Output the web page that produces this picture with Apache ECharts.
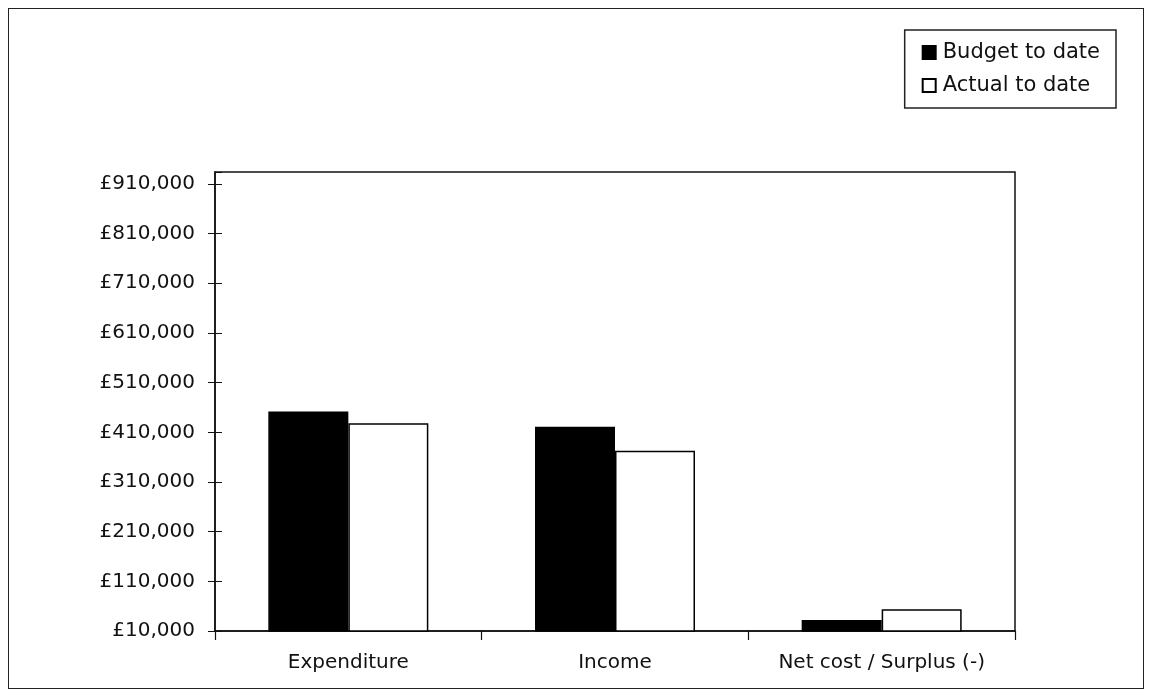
<!DOCTYPE html>
<html><head><meta charset="utf-8">
<script src="https://cdn.jsdelivr.net/npm/echarts@6/dist/echarts.min.js"></script>
<style>
html,body{margin:0;padding:0;background:#fff;}
#c{width:1151px;height:695px;}
#frame{position:absolute;left:8px;top:8px;width:1134px;height:679px;border:1.5px solid #222;pointer-events:none;}
</style></head>
<body>
<div id="c"></div>
<div id="frame"></div>
<script>
const categories = ['Expenditure', 'Income', 'Net cost / Surplus (-)'];
const budgetToDate = [452000, 421000, 32000];
const actualToDate = [428000, 373000, 54000];
const seriesNames = ['Budget to date', 'Actual to date'];
const yMin = 10000, yMax = 934000, yStep = 100000;

function fmt(v){
  if ((v - yMin) % yStep !== 0 || v > 910000) return '';
  return '£' + v.toLocaleString('en-GB');
}
const chart = echarts.init(document.getElementById('c'));
const font = 'DejaVu Sans, Arial, sans-serif';
chart.setOption({
  animation:false,
  backgroundColor:'#fff',
  textStyle:{fontFamily:font},
  legend:{
    orient:'vertical', right:35, top:30,
    data:seriesNames,
    itemWidth:13, itemHeight:13, itemGap:12,
    borderColor:'#222', borderWidth:1.5, padding:[12,16,12,17],
    textStyle:{fontSize:21, color:'#111', fontFamily:font, padding:[0,0,0,2]},
    icon:'rect'
  },
  grid:{left:215, right:136, top:172, bottom:64, show:true, borderColor:'#111', borderWidth:1.5, backgroundColor:'transparent'},
  xAxis:{
    type:'category', data:categories,
    axisLine:{lineStyle:{color:'#111', width:1.5}},
    axisTick:{show:true, interval:0, length:9, lineStyle:{color:'#111', width:1.2}},
    axisLabel:{fontSize:20, color:'#111', margin:22, fontFamily:font, interval:0, hideOverlap:false},
    splitLine:{show:false}
  },
  yAxis:[{
    type:'value', min:yMin, max:yMax, interval:yStep,
    axisLine:{show:true, lineStyle:{color:'#111', width:1.5}},
    axisTick:{show:true, length:7, lineStyle:{color:'#111', width:1}},
    axisLabel:{fontSize:20, color:'#111', margin:20, formatter:fmt, fontFamily:font, showMaxLabel:false},
    splitLine:{show:false}
  },{
    type:'value', min:yMin, max:yMax, interval:yStep, position:'left',
    axisLine:{show:false},
    axisTick:{show:true, inside:true, length:7, lineStyle:{color:'#111', width:1}},
    axisLabel:{show:false},
    splitLine:{show:false}
  }],
  series:[{
    name:seriesNames[0], type:'bar', data:budgetToDate,
    barGap:'0%', barCategoryGap:'40%',
    itemStyle:{color:'#000', borderColor:'#000', borderWidth:1.5}
  },{
    name:seriesNames[1], type:'bar', data:actualToDate,
    itemStyle:{color:'#fff', borderColor:'#000', borderWidth:1.5}
  }]
});
</script>
</body></html>
